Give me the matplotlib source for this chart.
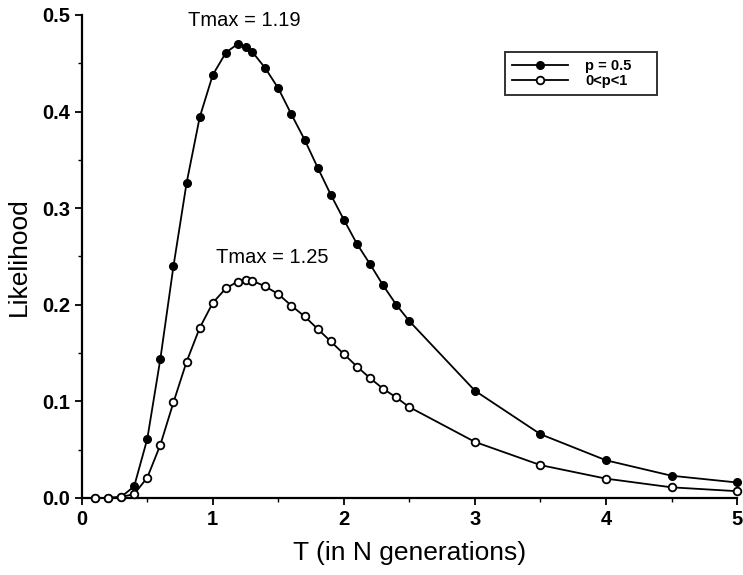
import matplotlib.pyplot as plt
from matplotlib.ticker import MultipleLocator

plt.rcParams['font.family'] = ['Liberation Sans', 'DejaVu Sans']

# generation times (in N generations)
t_vals = [0.1, 0.2, 0.3, 0.4, 0.5, 0.6, 0.7, 0.8, 0.9, 1.0, 1.1, 1.19, 1.25, 1.3,
          1.4, 1.5, 1.6, 1.7, 1.8, 1.9, 2.0, 2.1, 2.2, 2.3, 2.4, 2.5,
          3.0, 3.5, 4.0, 4.5, 5.0]

# p = 0.5
lik_half = [0.0, 0.0, 0.001, 0.012, 0.061, 0.144, 0.240, 0.326, 0.394, 0.438,
            0.461, 0.470, 0.467, 0.462, 0.445, 0.424, 0.397, 0.371, 0.342, 0.314,
            0.288, 0.263, 0.242, 0.220, 0.200, 0.183, 0.111, 0.066, 0.039, 0.023, 0.016]

# 0 < p < 1
lik_any = [0.0, 0.0, 0.001, 0.004, 0.021, 0.055, 0.099, 0.141, 0.176, 0.202,
           0.217, 0.224, 0.226, 0.225, 0.219, 0.211, 0.199, 0.188, 0.175, 0.162,
           0.149, 0.136, 0.124, 0.113, 0.104, 0.094, 0.058, 0.034, 0.020, 0.011, 0.007]

fig = plt.figure(figsize=(7.43, 5.75), dpi=100)
ax = fig.add_axes([0.110, 0.134, 0.882, 0.840])

ax.plot(t_vals, lik_half, '-o', color='black', lw=1.3, ms=5.5,
        mfc='black', mec='black', clip_on=False, zorder=3, label='p = 0.5')
ax.plot(t_vals, lik_any, '-o', color='black', lw=1.3, ms=5.5,
        mfc='white', mec='black', mew=1.3, clip_on=False, zorder=4, label='0<p<1')

ax.text(1.24, 0.484, 'Tmax = 1.19', ha='center', va='bottom', fontsize=14.5)
ax.text(1.45, 0.239, 'Tmax = 1.25', ha='center', va='bottom', fontsize=14.5)

ax.set_xlim(0, 5)
ax.set_ylim(0, 0.5)
ax.xaxis.set_major_locator(MultipleLocator(1))
ax.xaxis.set_minor_locator(MultipleLocator(0.5))
ax.yaxis.set_minor_locator(MultipleLocator(0.05))
ax.set_yticks([0, 0.1, 0.2, 0.3, 0.4, 0.5])
ax.set_yticklabels(['0.0', '0.1', '0.2', '0.3', '0.4', '0.5'])
ax.tick_params(which='major', length=5, width=1.3, labelsize=14.5, direction='out')
ax.tick_params(which='minor', length=3, width=1.0, direction='out')
for lab in ax.get_xticklabels() + ax.get_yticklabels():
    lab.set_fontweight('bold')

for side in ['top', 'right']:
    ax.spines[side].set_visible(False)
for side in ['left', 'bottom']:
    ax.spines[side].set_linewidth(1.6)

ax.set_xlabel('T (in N generations)', fontsize=19, labelpad=9)
ax.set_ylabel('Likelihood', fontsize=19, labelpad=8)

leg = ax.legend(loc='upper left', bbox_to_anchor=(0.646, 0.924, 0.232, 0.0),
                mode='expand', fontsize=10.5,
                frameon=True, fancybox=False, edgecolor='black', handlelength=3.8,
                borderpad=0.5, labelspacing=0.05, handletextpad=1.2, borderaxespad=0)
leg.get_frame().set_linewidth(1.4)
for txt in leg.get_texts():
    txt.set_fontweight('bold')

fig.savefig('out.png', dpi=100)
